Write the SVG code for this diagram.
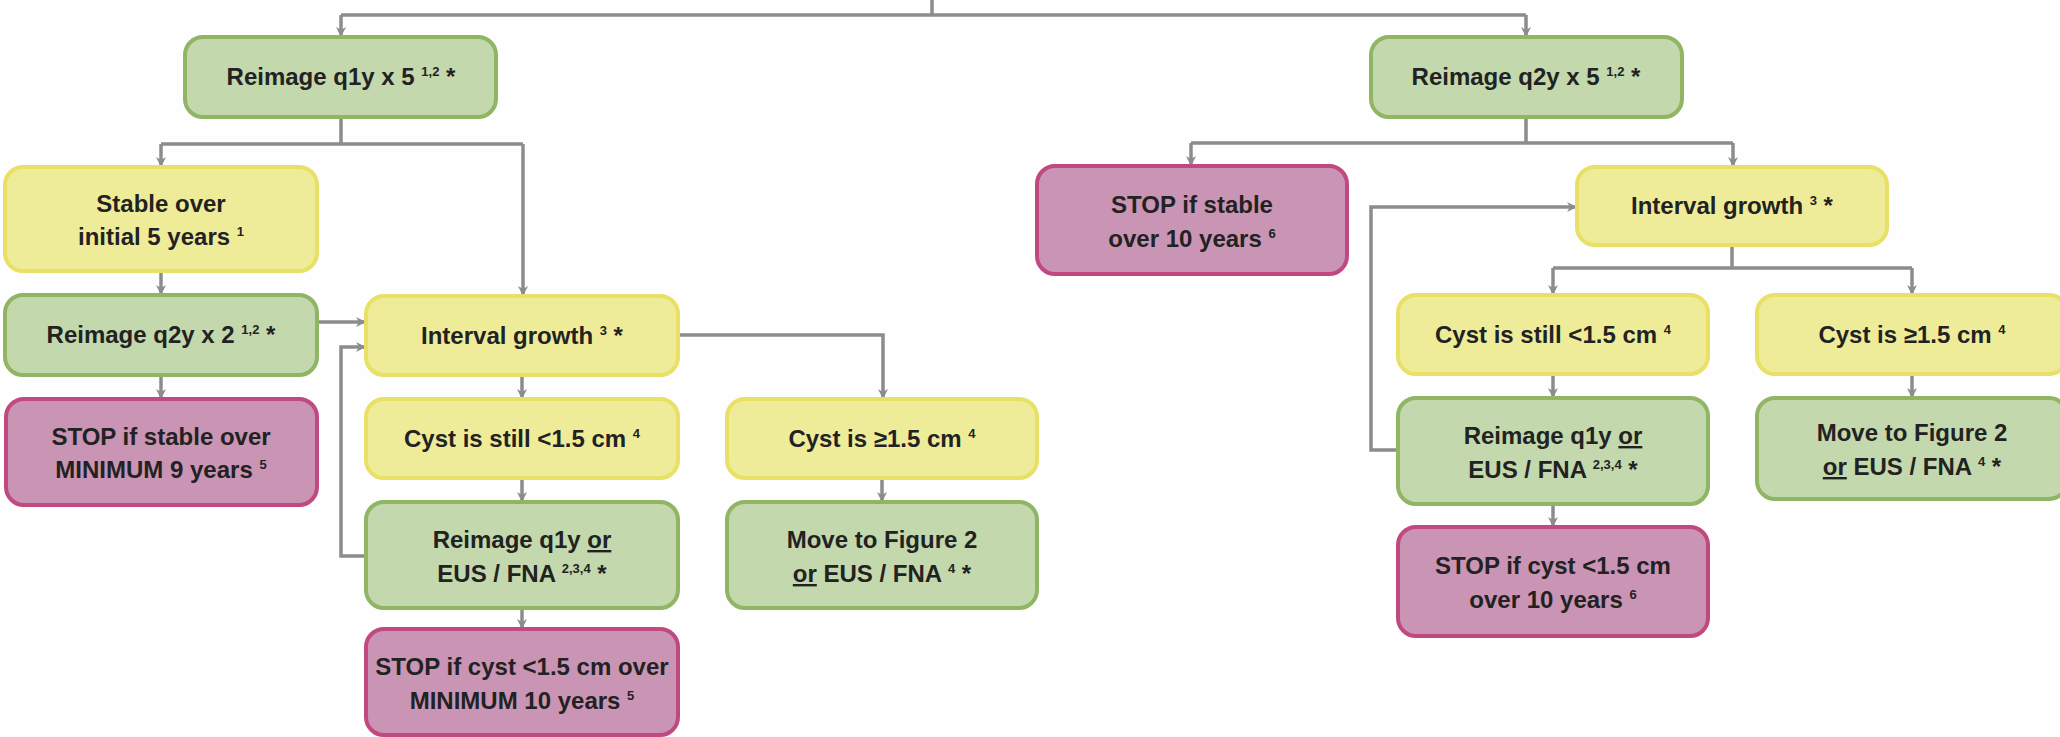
<svg xmlns="http://www.w3.org/2000/svg" width="2060" height="737" viewBox="0 0 2060 737">
<defs>
<marker id="ah" markerWidth="12" markerHeight="12" viewBox="0 0 12 12" refX="11" refY="6" orient="auto" markerUnits="userSpaceOnUse">
<path d="M1,1 L11,6 L1,11 L4,6 Z" fill="#8c8c8c"/>
</marker>
<style>
.g{fill:#c3d8ac;stroke:#8fb565;stroke-width:4}
.y{fill:#efec99;stroke:#e9e066;stroke-width:4}
.p{fill:#ca94b5;stroke:#c2497f;stroke-width:4}
text{font-family:"Liberation Sans",Arial,sans-serif;font-weight:bold;font-size:24px;fill:#222;text-anchor:middle}
.s{font-size:13px}
.c path{fill:none;stroke:#8c8c8c;stroke-width:3.5}
.c .a{marker-end:url(#ah)}
</style>
</defs>
<rect width="2060" height="737" fill="#fefefe"/>
<g class="c" id="connectors">
<path d="M341,15 H1526 M932,0 V15"/>
<path class="a" d="M341,15 V37"/>
<path class="a" d="M1526,15 V37"/>
<path d="M341,117 V144 M161,144 H523"/>
<path class="a" d="M161,144 V167"/>
<path class="a" d="M523,144 V296"/>
<path class="a" d="M161,271 V295"/>
<path class="a" d="M161,375 V399"/>
<path class="a" d="M317,322 H366"/>
<path class="a" d="M522,375 V399"/>
<path class="a" d="M678,335 H883 V399"/>
<path class="a" d="M522,478 V502"/>
<path class="a" d="M522,608 V629"/>
<path class="a" d="M366,556 H341 V347 H366"/>
<path class="a" d="M882,478 V502"/>
<path d="M1526,117 V143 M1191,143 H1733"/>
<path class="a" d="M1191,143 V166"/>
<path class="a" d="M1733,143 V167"/>
<path d="M1732,245 V268 M1553,268 H1912"/>
<path class="a" d="M1553,268 V295"/>
<path class="a" d="M1912,268 V295"/>
<path class="a" d="M1553,374 V398"/>
<path class="a" d="M1912,374 V398"/>
<path class="a" d="M1553,504 V527"/>
<path class="a" d="M1398,450 H1371 V207 H1577"/>
</g>
<g id="n1"><rect class="g" x="185" y="37" width="311" height="80" rx="18"/><text x="341" y="85">Reimage q1y x 5 <tspan class="s" dy="-9">1,2</tspan><tspan dy="9"> *</tspan></text></g>
<g id="n2"><rect class="y" x="5" y="167" width="312" height="104" rx="18"/><text x="161" y="212">Stable over</text><text x="161" y="245">initial 5 years <tspan class="s" dy="-9">1</tspan></text></g>
<g id="n3"><rect class="g" x="5" y="295" width="312" height="80" rx="18"/><text x="161" y="343">Reimage q2y x 2 <tspan class="s" dy="-9">1,2</tspan><tspan dy="9"> *</tspan></text></g>
<g id="n4"><rect class="p" x="6" y="399" width="311" height="106" rx="18"/><text x="161" y="445">STOP if stable over</text><text x="161" y="478">MINIMUM 9 years <tspan class="s" dy="-9">5</tspan></text></g>
<g id="n5"><rect class="y" x="366" y="296" width="312" height="79" rx="18"/><text x="522" y="344">Interval growth <tspan class="s" dy="-9">3</tspan><tspan dy="9"> *</tspan></text></g>
<g id="n6"><rect class="y" x="366" y="399" width="312" height="79" rx="18"/><text x="522" y="447">Cyst is still &lt;1.5 cm <tspan class="s" dy="-9">4</tspan></text></g>
<g id="n7"><rect class="g" x="366" y="502" width="312" height="106" rx="18"/><text x="522" y="548">Reimage q1y <tspan text-decoration="underline">or</tspan></text><text x="522" y="582">EUS / FNA <tspan class="s" dy="-9">2,3,4</tspan><tspan dy="9"> *</tspan></text></g>
<g id="n8"><rect class="p" x="366" y="629" width="312" height="106" rx="18"/><text x="522" y="675">STOP if cyst &lt;1.5 cm over</text><text x="522" y="709">MINIMUM 10 years <tspan class="s" dy="-9">5</tspan></text></g>
<g id="n9"><rect class="y" x="727" y="399" width="310" height="79" rx="18"/><text x="882" y="447">Cyst is ≥1.5 cm <tspan class="s" dy="-9">4</tspan></text></g>
<g id="n10"><rect class="g" x="727" y="502" width="310" height="106" rx="18"/><text x="882" y="548">Move to Figure 2</text><text x="882" y="582"><tspan text-decoration="underline">or</tspan> EUS / FNA <tspan class="s" dy="-9">4</tspan><tspan dy="9"> *</tspan></text></g>
<g id="n11"><rect class="g" x="1371" y="37" width="311" height="80" rx="18"/><text x="1526" y="85">Reimage q2y x 5 <tspan class="s" dy="-9">1,2</tspan><tspan dy="9"> *</tspan></text></g>
<g id="n12"><rect class="p" x="1037" y="166" width="310" height="108" rx="18"/><text x="1192" y="213">STOP if stable</text><text x="1192" y="247">over 10 years <tspan class="s" dy="-9">6</tspan></text></g>
<g id="n13"><rect class="y" x="1577" y="167" width="310" height="78" rx="18"/><text x="1732" y="214">Interval growth <tspan class="s" dy="-9">3</tspan><tspan dy="9"> *</tspan></text></g>
<g id="n14"><rect class="y" x="1398" y="295" width="310" height="79" rx="18"/><text x="1553" y="343">Cyst is still &lt;1.5 cm <tspan class="s" dy="-9">4</tspan></text></g>
<g id="n15"><rect class="y" x="1757" y="295" width="310" height="79" rx="18"/><text x="1912" y="343">Cyst is ≥1.5 cm <tspan class="s" dy="-9">4</tspan></text></g>
<g id="n16"><rect class="g" x="1398" y="398" width="310" height="106" rx="18"/><text x="1553" y="444">Reimage q1y <tspan text-decoration="underline">or</tspan></text><text x="1553" y="478">EUS / FNA <tspan class="s" dy="-9">2,3,4</tspan><tspan dy="9"> *</tspan></text></g>
<g id="n17"><rect class="g" x="1757" y="398" width="310" height="101" rx="18"/><text x="1912" y="441">Move to Figure 2</text><text x="1912" y="475"><tspan text-decoration="underline">or</tspan> EUS / FNA <tspan class="s" dy="-9">4</tspan><tspan dy="9"> *</tspan></text></g>
<g id="n18"><rect class="p" x="1398" y="527" width="310" height="109" rx="18"/><text x="1553" y="574">STOP if cyst &lt;1.5 cm</text><text x="1553" y="608">over 10 years <tspan class="s" dy="-9">6</tspan></text></g>
</svg>
